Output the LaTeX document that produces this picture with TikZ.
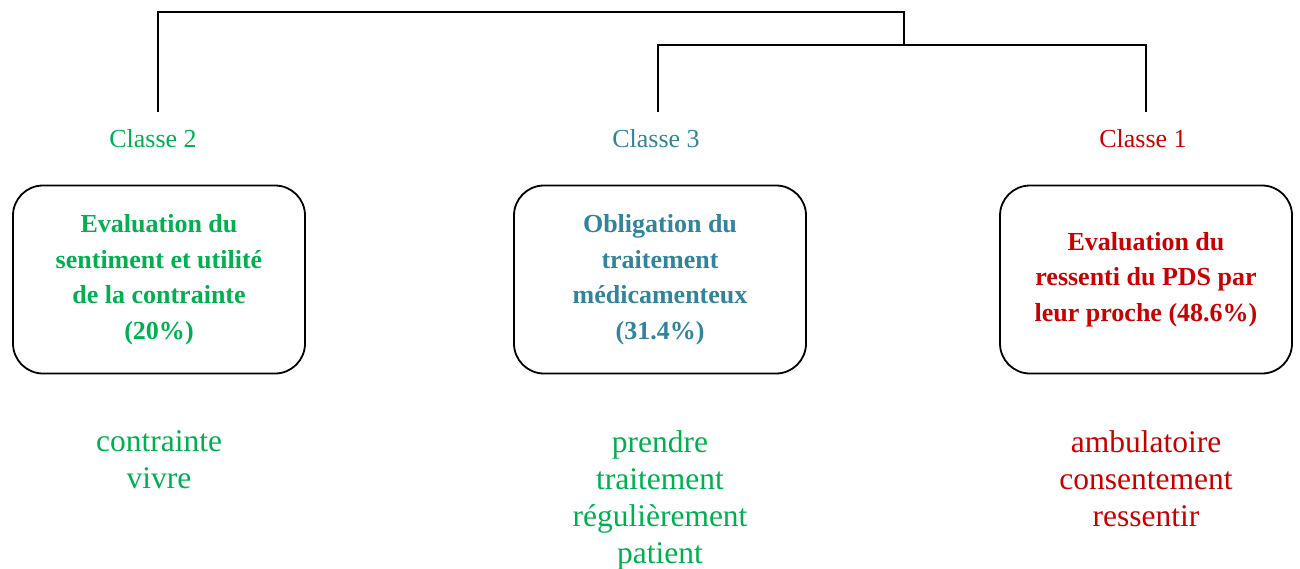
\documentclass[tikz,border=0pt]{standalone}
\usepackage{fontspec}
\setmainfont{Liberation Serif}
\definecolor{cgreen}{HTML}{00B050}
\definecolor{cteal}{HTML}{31849B}
\definecolor{cred}{HTML}{C80000}
\begin{document}
\begin{tikzpicture}[x=1pt,y=-1pt,
  link/.style={draw=black,line width=1.8pt},
  classlabel/.style={anchor=base,inner sep=0pt,font=\fontsize{26}{30}\selectfont},
  classbox/.style={draw=black,line width=1.8pt,rounded corners=30pt,
    minimum width=292pt,minimum height=188pt,inner sep=0pt,align=center,
    font=\fontsize{26}{35.5}\selectfont\bfseries},
  words/.style={anchor=north,inner sep=0pt,align=center,
    font=\fontsize{31.5}{37}\selectfont}]
\useasboundingbox (0,0) rectangle (1300,568);

% class labels
\node[classlabel,text=cgreen] (c2) at (153,147) {Classe 2};
\node[classlabel,text=cteal] (c3) at (656,147) {Classe 3};
\node[classlabel,text=cred] (c1) at (1143,147) {Classe 1};

% boxes
\node[classbox,text=cgreen] (b2) at (159,279.5)
  {Evaluation du\\sentiment et utilité\\de la contrainte\\(20\%)};
\node[classbox,text=cteal] (b3) at (660,279.5)
  {Obligation du\\traitement\\médicamenteux\\(31.4\%)};
\node[classbox,text=cred] (b1) at (1146,279.5)
  {Evaluation du\\ressenti du PDS par\\leur proche (48.6\%)};

% characteristic words
\node[words,text=cgreen] (w2) at (159,430) {contrainte\\vivre};
\node[words,text=cgreen] (w3) at (660,430) {prendre\\traitement\\régulièrement\\patient};
\node[words,text=cred] (w1) at (1146,430) {ambulatoire\\consentement\\ressentir};

% dendrogram
\coordinate (c2top) at (158,112);
\coordinate (c3top) at (658,112);
\coordinate (c1top) at (1146,112);
\coordinate (jtop) at (904,12);
\coordinate (jmid) at (904,45);
\draw[link] (c2top) |- (jtop) -- (jmid);
\draw[link] (c3top) |- (jmid) -| (c1top);
\end{tikzpicture}
\end{document}
